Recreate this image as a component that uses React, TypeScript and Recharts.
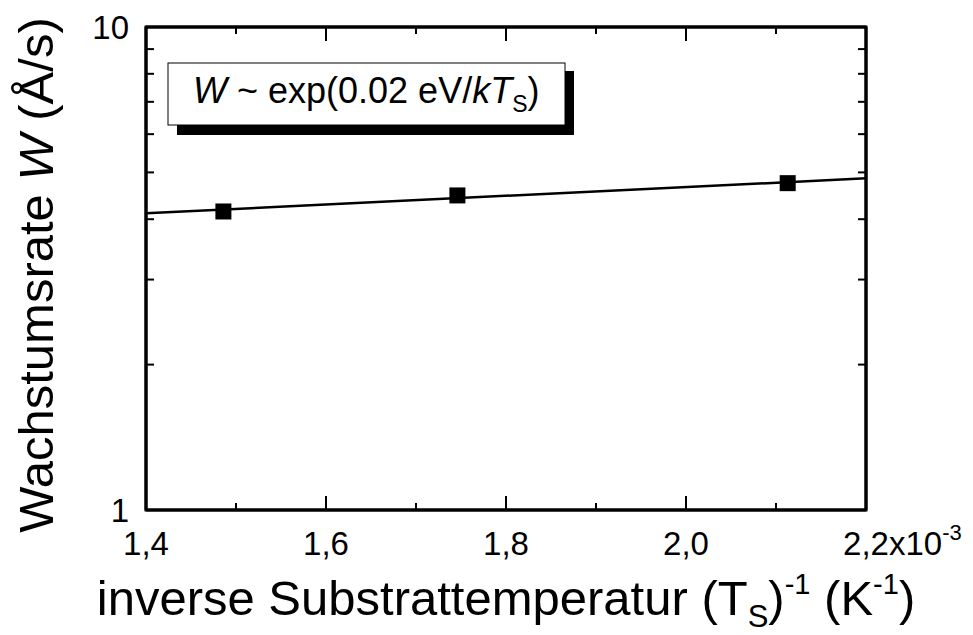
import React from 'react';
import { ComposedChart, XAxis, YAxis, Line, Scatter, Customized } from 'recharts';

// data (x in units of 10^-3 K^-1)
const invTemp = [1.486, 1.746, 2.113];
const growthRate = [4.15, 4.48, 4.75];
const fitInvTemp = [1.4, 2.2];
const fitRate = [4.115, 4.86];

const xTicks = [1.4, 1.5, 1.6, 1.7, 1.8, 1.9, 2.0, 2.1, 2.2];
const xTickLabels: Record<string, string> = { '1.4': '1,4', '1.6': '1,6', '1.8': '1,8', '2': '2,0', '2.2': '2,2' };
const yTicks = [1, 2, 3, 4, 5, 6, 7, 8, 9, 10];
const yTickLabels: Record<string, string> = { '1': '1', '10': '10' };

const W = 973;
const H = 635;
const LEFT_W = 146;
const RIGHT_W = 107;
const TOP_H = 27;
const BOTTOM_H = 125;
const PLOT_L = LEFT_W;
const PLOT_R = W - RIGHT_W;
const PLOT_T = TOP_H;
const PLOT_B = H - BOTTOM_H;
const FONT = '"Liberation Sans", Arial, Helvetica, sans-serif';

const pointData = invTemp.map((x, i) => ({ x, w: growthRate[i] }));
const fitData = fitInvTemp.map((x, i) => ({ x, w: fitRate[i] }));

const keyOf = (v: number) => String(Math.round(v * 10) / 10);

const BottomTick = (props: any) => {
  const { payload } = props;
  const cx = payload.coordinate;
  const label = xTickLabels[keyOf(payload.value)];
  const major = label !== undefined;
  const isLast = keyOf(payload.value) === '2.2';
  return (
    <g>
      <line x1={cx} x2={cx} y1={PLOT_B} y2={PLOT_B - (major ? 14 : 7)} stroke="#000" strokeWidth={2} />
      {major && (
        <text x={cx} y={555} textAnchor="middle" fontFamily={FONT} fontSize={33} fill="#000">
          {label}
        </text>
      )}
      {isLast && (
        <text x={cx + 23} y={555} textAnchor="start" fontFamily={FONT} fontSize={33} fill="#000">
          x10
          <tspan fontSize={22} dy={-15}>-3</tspan>
        </text>
      )}
    </g>
  );
};

const TopTick = (props: any) => {
  const { payload } = props;
  const cx = payload.coordinate;
  const major = xTickLabels[keyOf(payload.value)] !== undefined;
  return <line x1={cx} x2={cx} y1={PLOT_T} y2={PLOT_T + (major ? 14 : 7)} stroke="#000" strokeWidth={2} />;
};

const LeftTick = (props: any) => {
  const { payload } = props;
  const cy = payload.coordinate;
  const label = yTickLabels[String(payload.value)];
  const major = label !== undefined;
  return (
    <g>
      <line x1={PLOT_L} x2={PLOT_L + (major ? 14 : 8)} y1={cy} y2={cy} stroke="#000" strokeWidth={2} />
      {major && (
        <text x={129} y={cy + 12} textAnchor="end" fontFamily={FONT} fontSize={33} fill="#000">
          {label}
        </text>
      )}
    </g>
  );
};

const RightTick = (props: any) => {
  const { payload } = props;
  const cy = payload.coordinate;
  const major = yTickLabels[String(payload.value)] !== undefined;
  return <line x1={PLOT_R} x2={PLOT_R - (major ? 14 : 8)} y1={cy} y2={cy} stroke="#000" strokeWidth={2} />;
};

const SquareShape = (props: any) => {
  const { cx, cy } = props;
  return <rect x={cx - 8} y={cy - 8} width={16} height={16} fill="#000" />;
};

const XTitle = () => (
  <text x={(PLOT_L + PLOT_R) / 2} y={615} textAnchor="middle" fontFamily={FONT} fontSize={49} fill="#000">
    inverse Substrattemperatur (T
    <tspan fontSize={31} dy={12}>S</tspan>
    <tspan dy={-12}>)</tspan>
    <tspan fontSize={29} dy={-21}>-1</tspan>
    <tspan dy={21}> (K</tspan>
    <tspan fontSize={29} dy={-21}>-1</tspan>
    <tspan dy={21}>)</tspan>
  </text>
);

const YTitle = () => (
  <text
    x={53}
    y={275}
    transform="rotate(-90, 53, 275)"
    textAnchor="middle"
    fontFamily={FONT}
    fontSize={49}
    fill="#000"
  >
    Wachstumsrate <tspan fontStyle="italic">W</tspan> (Å/s)
  </text>
);

const Overlay = () => (
  <g>
    <rect
      x={PLOT_L}
      y={PLOT_T}
      width={PLOT_R - PLOT_L}
      height={PLOT_B - PLOT_T}
      fill="none"
      stroke="#000"
      strokeWidth={3}
    />
    <rect x={177} y={71} width={397} height={64} fill="#000" />
    <rect x={168} y={63} width={397} height={62} fill="#fff" stroke="#000" strokeWidth={1} />
    <text x={193} y={103} fontFamily={FONT} fontSize={36} fill="#000">
      <tspan fontStyle="italic">W</tspan>
      <tspan> ~ exp(0.02 eV/</tspan>
      <tspan fontStyle="italic">kT</tspan>
      <tspan fontSize={23} dy={9}>S</tspan>
      <tspan dy={-9}>)</tspan>
    </text>
    <XTitle />
    <YTitle />
  </g>
);

export default function App() {
  return (
    <div style={{ position: 'absolute', left: 0, top: 0, width: W, height: H, background: '#fff' }}>
      <ComposedChart width={W} height={H} margin={{ top: 0, right: 0, bottom: 0, left: 0 }}>
        <XAxis
          xAxisId="bottom"
          dataKey="x"
          type="number"
          orientation="bottom"
          domain={[1.4, 2.2]}
          ticks={xTicks}
          interval={0}
          height={BOTTOM_H}
          allowDataOverflow
          axisLine={{ stroke: '#000', strokeWidth: 3 }}
          tickLine={false}
          tick={<BottomTick />}
        />
        <XAxis
          xAxisId="top"
          dataKey="x"
          type="number"
          orientation="top"
          domain={[1.4, 2.2]}
          ticks={xTicks}
          interval={0}
          height={TOP_H}
          allowDataOverflow
          axisLine={{ stroke: '#000', strokeWidth: 3 }}
          tickLine={false}
          tick={<TopTick />}
        />
        <YAxis
          yAxisId="left"
          dataKey="w"
          type="number"
          scale="log"
          orientation="left"
          domain={[1, 10]}
          ticks={yTicks}
          interval={0}
          width={LEFT_W}
          allowDataOverflow
          axisLine={{ stroke: '#000', strokeWidth: 3 }}
          tickLine={false}
          tick={<LeftTick />}
        />
        <YAxis
          yAxisId="right"
          dataKey="w"
          type="number"
          scale="log"
          orientation="right"
          domain={[1, 10]}
          ticks={yTicks}
          interval={0}
          width={RIGHT_W}
          allowDataOverflow
          axisLine={{ stroke: '#000', strokeWidth: 3 }}
          tickLine={false}
          tick={<RightTick />}
        />
        <Line
          xAxisId="bottom"
          yAxisId="left"
          data={fitData}
          dataKey="w"
          type="linear"
          stroke="#000"
          strokeWidth={2.5}
          dot={false}
          isAnimationActive={false}
        />
        <Scatter
          xAxisId="bottom"
          yAxisId="left"
          data={pointData}
          dataKey="w"
          shape={<SquareShape />}
          isAnimationActive={false}
        />
        <Customized component={<Overlay />} />
      </ComposedChart>
    </div>
  );
}
